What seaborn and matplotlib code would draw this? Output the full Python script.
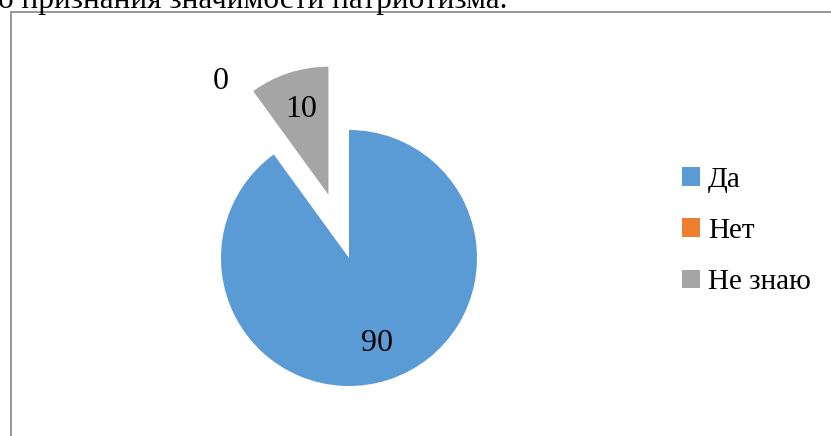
import matplotlib.pyplot as plt
import seaborn as sns
from matplotlib.patches import Rectangle, Patch

sns.set_theme(style="white")
plt.rcParams['font.family'] = ['Liberation Serif', 'DejaVu Serif']
plt.rcParams['text.color'] = 'black'

# data
categories = ['Да', 'Нет', 'Не знаю']
values = [90, 0, 10]
colors = ['#5B9BD5', '#ED7D31', '#A5A5A5']
explode = [0, 1.0, 0.52]
caption = 'о признания значимости патриотизма.'

W, H = 831, 436
fig = plt.figure(figsize=(W / 100, H / 100), dpi=100)
ax = fig.add_axes([0, 0, 1, 1])

total = sum(values)
wedges, texts, autotexts = ax.pie(
    values, colors=colors, explode=explode, startangle=90, counterclock=False,
    radius=1, autopct=lambda p: f"{round(p * total / 100)}", pctdistance=0.7,
    textprops=dict(fontsize=23, color='black'),
    wedgeprops=dict(linewidth=0),
)

# pie centre at pixel (349, 258), radius 128 px
cx, cy, r = 349, 258, 128
ax.set_aspect('auto')
ax.set_xlim(-cx / r, (W - cx) / r)
ax.set_ylim(-(H - cy) / r, cy / r)
ax.axis('off')

# chart frame (right and bottom edges run off the image)
fig.patches.append(Rectangle((10.5 / W, -0.1), 0.1 + 830 / W, 1.1 - 12.5 / H,
                             transform=fig.transFigure, fill=False,
                             edgecolor='#8f8f8f', linewidth=1.3))

fig.text(-2 / W, 1 - 8 / H, caption, fontsize=22.5, ha='left', va='baseline')

handles = [Patch(facecolor=c, edgecolor='none') for c in colors]
fig.legend(handles, categories, loc='center left',
           bbox_to_anchor=(682 / W, 1 - 231 / H), frameon=False,
           fontsize=21, handlelength=0.6, handleheight=0.6,
           handletextpad=0.3, labelspacing=0.86, borderpad=0,
           borderaxespad=0, labelcolor='black')

fig.savefig('out.png', dpi=100)
